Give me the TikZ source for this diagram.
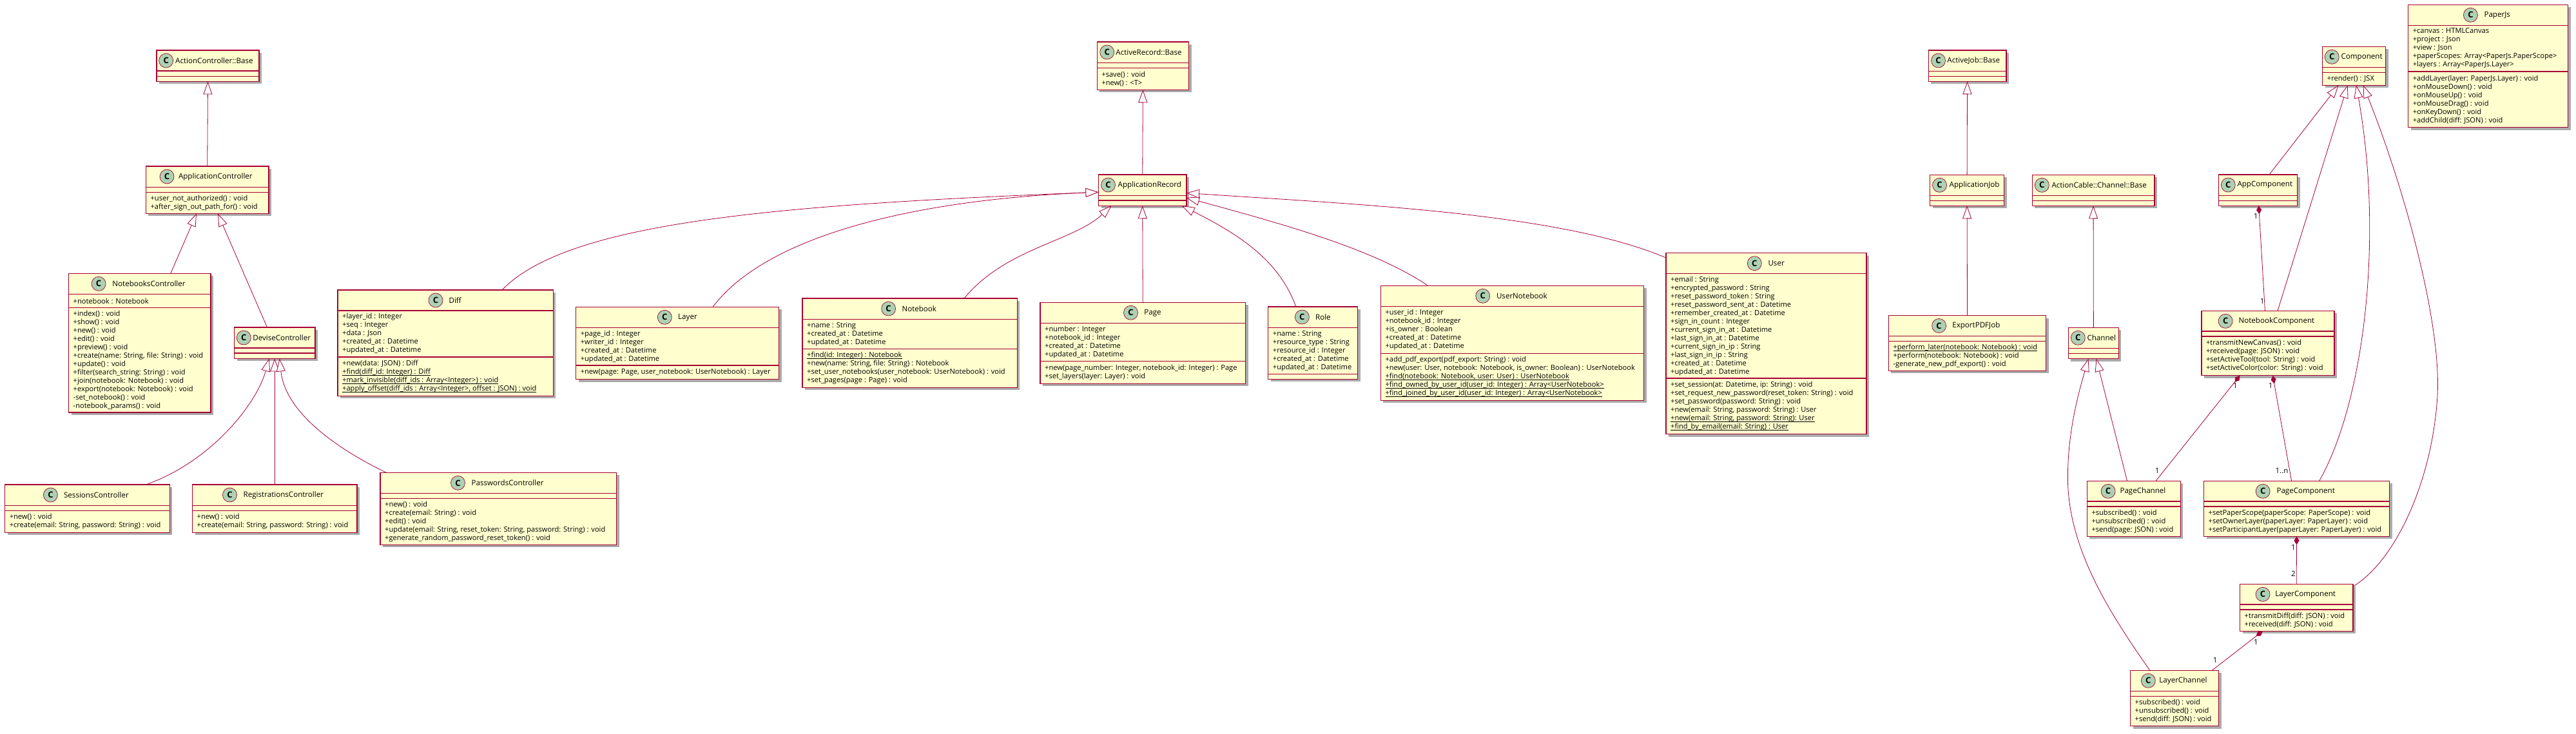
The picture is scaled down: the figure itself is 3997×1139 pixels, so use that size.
\documentclass[tikz,border=0pt]{standalone}
\usepackage{fontspec}
\setmainfont{Open Sans}
\usetikzlibrary{positioning, arrows.meta, shapes, shadows, calc}
\definecolor{DeepRed}{HTML}{A80036}
\definecolor{BoxFill}{HTML}{FEFECE}
\definecolor{IconFill}{HTML}{ADD1B2}
\tikzset{
  classbox/.style={draw=DeepRed, line width=1.4pt, fill=BoxFill, inner sep=0, outer sep=0,
    drop shadow={shadow xshift=4pt, shadow yshift=-4pt, fill=black!60, opacity=.55}},
  classline/.style={draw=DeepRed, line width=1.2pt},
  classicon/.style={circle, draw=DeepRed, line width=.7pt, fill=IconFill, minimum size=22pt, inner sep=0, font=\fontsize{13}{13}\selectfont\bfseries},
  classtitle/.style={inner sep=0, anchor=west, font=\fontsize{11.6}{14}\selectfont},
  members/.style={inner sep=0, anchor=west, align=left, font=\fontsize{11.1}{13}\selectfont},
  mult/.style={inner sep=0, font=\fontsize{11.5}{13}\selectfont},
  extends/.style={draw=DeepRed, line width=.8pt, -{Triangle[length=20pt, width=14pt, fill=white, line width=.8pt]}},
  owns/.style={draw=DeepRed, line width=.8pt, {Diamond[length=13pt, width=8pt, fill=DeepRed]}-}
}
% id, left, top, right, bottom, first rule, second rule, fields, methods
\newcommand{\umlbox}[9]{
  \node[classbox, minimum width={(#4-#2)*1pt}, minimum height={(#5-#3)*1pt}] (#1) at ({(#2+#4)/2},{(#3+#5)/2}) {};
  \draw[classline] (#1.west |- 0,#6) -- (#1.east |- 0,#6);
  \draw[classline] (#1.west |- 0,#7) -- (#1.east |- 0,#7);
  \if\relax\detokenize{#8}\relax\else
    \node[members] (#1-fields) at ({#2+7},{(#6+#7)/2}) {#8};
  \fi
  \if\relax\detokenize{#9}\relax\else
    \node[members] (#1-methods) at ({#2+7},{(#7+#5)/2}) {#9};
  \fi
}
% id, icon centre, title start (both from the left side), title
\newcommand{\umlhead}[4]{
  \node[classicon] (#1-icon) at ([xshift=#2pt, yshift=-16pt]#1.north west) {C};
  \node[classtitle] (#1-title) at ([xshift=#3pt, yshift=-16pt]#1.north west) {#4};
}
\newcommand{\stat}[1]{\sbox0{#1}\rlap{\vrule height -1.7pt depth 2.6pt width \wd0}\usebox0}
\begin{document}
\begin{tikzpicture}[x=1pt, y=-1pt]
\useasboundingbox (0,0) rectangle (3997,1139);
% Controllers
\umlbox{ActionBase}{243}{78}{402}{126.4}{110}{118.2}{}{}
\umlhead{ActionBase}{14.7}{29}{ActionController::Base}
\umlbox{AppController}{226.4}{258}{417}{331.4}{290.4}{298.6}{}{+user\_not\_authorized() : void\\+after\_sign\_out\_path\_for() : void}
\umlhead{AppController}{32.6}{50.4}{ApplicationController}
\umlbox{NotebooksCtrl}{106.5}{424.3}{327}{640}{456.4}{477.5}{+notebook : Notebook}{+index() : void\\+show() : void\\+new() : void\\+edit() : void\\+preview() : void\\+create(name: String, file: String) : void\\+update() : void\\+filter(search\_string: String) : void\\+join(notebook: Notebook) : void\\+export(notebook: Notebook) : void\\-set\_notebook() : void\\-notebook\_params() : void}
\umlhead{NotebooksCtrl}{46.6}{67.7}{NotebooksController}
\umlbox{DeviseCtrl}{363.5}{508}{489}{556.4}{540}{548}{}{}
\umlhead{DeviseCtrl}{14.7}{28.7}{DeviseController}
\umlbox{SessionsCtrl}{7.6}{752}{263.4}{826.2}{784.3}{792.5}{}{+new() : void\\+create(email: String, password: String) : void}
\umlhead{SessionsCtrl}{70.8}{91.3}{SessionsController}
\umlbox{RegistrationsCtrl}{298.5}{752}{554}{826.2}{784.3}{792.5}{}{+new() : void\\+create(email: String, password: String) : void}
\umlhead{RegistrationsCtrl}{58}{79}{RegistrationsController}
\umlbox{PasswordsCtrl}{590}{733.4}{956.6}{845.4}{765.3}{773.6}{}{+new() : void\\+create(email: String) : void\\+edit() : void\\+update(email: String, reset\_token: String, password: String) : void\\+generate\_random\_password\_reset\_token() : void}
\umlhead{PasswordsCtrl}{120.5}{141.5}{PasswordsController}
% Models
\umlbox{RecordBase}{1702.2}{65}{1844.6}{139.3}{97.3}{105.3}{}{+save() : void\\+new() : <T>}
\umlhead{RecordBase}{15.5}{29}{ActiveRecord::Base}
\umlbox{AppRecord}{1704.5}{271}{1841}{319.3}{303.3}{311}{}{}
\umlhead{AppRecord}{15}{30}{ApplicationRecord}
\umlbox{Diff}{524}{450}{858.4}{614.4}{482}{554}{+layer\_id : Integer\\+seq : Integer\\+data : Json\\+created\_at : Datetime\\+updated\_at : Datetime}{+new(data: JSON) : Diff\\\stat{+find(diff\_id: Integer) : Diff}\\\stat{+mark\_invisible(diff\_ids : Array<Integer>) : void}\\\stat{+apply\_offset(diff\_ids : Array<Integer>, offset : JSON) : void}}
\umlhead{Diff}{152}{172.4}{Diff}
\umlbox{Layer}{893.6}{476.3}{1208.7}{588.7}{508.3}{567}{+page\_id : Integer\\+writer\_id : Integer\\+created\_at : Datetime\\+updated\_at : Datetime}{+new(page: Page, user\_notebook: UserNotebook) : Layer}
\umlhead{Layer}{137.7}{158.4}{Layer}
\umlbox{Notebook}{1245}{463}{1578.4}{601.3}{495.3}{541.3}{+name : String\\+created\_at : Datetime\\+updated\_at : Datetime}{\stat{+find(id: Integer) : Notebook}\\+new(name: String, file: String) : Notebook\\+set\_user\_notebooks(user\_notebook: UserNotebook) : void\\+set\_pages(page : Page) : void}
\umlhead{Notebook}{133.6}{154.3}{Notebook}
\umlbox{Page}{1614}{469.3}{1932.5}{595.3}{501.3}{560.7}{+number : Integer\\+notebook\_id : Integer\\+created\_at : Datetime\\+updated\_at : Datetime}{+new(page\_number: Integer, notebook\_id: Integer) : Page\\+set\_layers(layer: Layer) : void}
\umlhead{Page}{140.5}{161.2}{Page}
\umlbox{Role}{1967.7}{476}{2106.5}{588.3}{508.3}{580.3}{+name : String\\+resource\_type : String\\+resource\_id : Integer\\+created\_at : Datetime\\+updated\_at : Datetime}{}
\umlhead{Role}{52.6}{73.2}{Role}
\umlbox{UserNotebook}{2142.3}{443.3}{2550.5}{621.3}{475.3}{548.3}{+user\_id : Integer\\+notebook\_id : Integer\\+is\_owner : Boolean\\+created\_at : Datetime\\+updated\_at : Datetime}{+add\_pdf\_export(pdf\_export: String) : void\\+new(user: User, notebook: Notebook, is\_owner: Boolean) : UserNotebook\\\stat{+find(notebook: Notebook, user: User) : UserNotebook}\\\stat{+find\_owned\_by\_user\_id(user\_id: Integer) : Array<UserNotebook>}\\\stat{+find\_joined\_by\_user\_id(user\_id: Integer) : Array<UserNotebook>}}
\umlhead{UserNotebook}{158.4}{179.5}{UserNotebook}
\umlbox{User}{2585}{392.7}{2896}{673.7}{424.3}{587}{+email : String\\+encrypted\_password : String\\+reset\_password\_token : String\\+reset\_password\_sent\_at : Datetime\\+remember\_created\_at : Datetime\\+sign\_in\_count : Integer\\+current\_sign\_in\_at : Datetime\\+last\_sign\_in\_at : Datetime\\+current\_sign\_in\_ip : String\\+last\_sign\_in\_ip : String\\+created\_at : Datetime\\+updated\_at : Datetime}{+set\_session(at: Datetime, ip: String) : void\\+set\_request\_new\_password(reset\_token: String) : void\\+set\_password(password: String) : void\\+new(email: String, password: String) : User\\\stat{+new(email: String, password: String): User}\\\stat{+find\_by\_email(email: String) : User}}
\umlhead{User}{137.3}{158.3}{User}
% Jobs
\umlbox{JobBase}{2992.2}{78}{3112.8}{126.3}{110.3}{118.3}{}{}
\umlhead{JobBase}{15.3}{29}{ActiveJob::Base}
\umlbox{AppJob}{2994.5}{271.3}{3109.7}{319.3}{303.3}{311.3}{}{}
\umlhead{AppJob}{15}{30}{ApplicationJob}
\umlbox{ExportJob}{2930.3}{489.5}{3174.7}{575.3}{521.3}{529.3}{}{\stat{+perform\_later(notebook: Notebook) : void}\\+perform(notebook: Notebook) : void\\-generate\_new\_pdf\_export() : void}
\umlhead{ExportJob}{78.3}{98.8}{ExportPDFJob}
% Channels
\umlbox{CableBase}{3153.3}{271.3}{3342.8}{319.3}{303.3}{311.3}{}{}
\umlhead{CableBase}{15}{30}{ActionCable::Channel::Base}
\umlbox{Channel}{3209.3}{508.3}{3287.4}{556.7}{540.3}{548.3}{}{}
\umlhead{Channel}{15}{29}{Channel}
\umlbox{PageChannel}{3238.3}{746.3}{3383.4}{832.3}{778}{786}{}{+subscribed() : void\\+unsubscribed() : void\\+send(page: JSON) : void}
\umlhead{PageChannel}{32.8}{51}{PageChannel}
\umlbox{LayerChannel}{3305.5}{1040.3}{3442.7}{1126.7}{1072.3}{1080.3}{}{+subscribed() : void\\+unsubscribed() : void\\+send(diff: JSON) : void}
\umlhead{LayerChannel}{27.8}{44.7}{LayerChannel}
% Components
\umlbox{Component}{3603.7}{72.3}{3701.6}{132.3}{104.3}{112.3}{}{+render() : JSX}
\umlhead{Component}{14.5}{28.6}{Component}
\umlbox{AppComponent}{3442.3}{271}{3564.5}{319.3}{303.3}{311.3}{}{}
\umlhead{AppComponent}{15}{29}{AppComponent}
\umlbox{NotebookComponent}{3415.8}{482.3}{3621.8}{582.7}{514}{522}{}{+transmitNewCanvas() : void\\+received(page: JSON) : void\\+setActiveTool(tool: String) : void\\+setActiveColor(color: String) : void}
\umlhead{NotebookComponent}{37.3}{57.6}{NotebookComponent}
\umlbox{PageComponent}{3419.5}{746.3}{3707.6}{832.3}{778}{786}{}{+setPaperScope(paperScope: PaperScope) : void\\+setOwnerLayer(paperLayer: PaperLayer) : void\\+setParticipantLayer(paperLayer: PaperLayer) : void}
\umlhead{PageComponent}{91.6}{112.8}{PageComponent}
\umlbox{LayerComponent}{3475.5}{906.3}{3650.8}{979.3}{938}{946}{}{+transmitDiff(diff: JSON) : void\\+received(diff: JSON) : void}
\umlhead{LayerComponent}{35.5}{54.7}{LayerComponent}
\umlbox{PaperJs}{3736.6}{7.3}{3984.5}{197.7}{39.3}{111}{+canvas : HTMLCanvas\\+project : Json\\+view : Json\\+paperScopes: Array<PaperJs.PaperScope>\\+layers : Array<PaperJs.Layer>}{+addLayer(layer: PaperJs.Layer) : void\\+onMouseDown() : void\\+onMouseUp() : void\\+onMouseDrag() : void\\+onKeyDown() : void\\+addChild(diff: JSON) : void}
\umlhead{PaperJs}{96.8}{117.7}{PaperJs}
% Inheritance, controllers
\draw[extends] (AppController.north) -- (ActionBase.south);
\draw[extends] ([xshift=48pt]NotebooksCtrl.north) -- ([xshift=-16.7pt]AppController.south);
\draw[extends] ([xshift=-11.75pt]DeviseCtrl.north) -- ([xshift=16.3pt]AppController.south);
\draw[extends] ([xshift=90.9pt]SessionsCtrl.north) .. controls (324,718) and (397,630) .. ([xshift=-8.5pt]DeviseCtrl.south);
\draw[extends] (RegistrationsCtrl.north) -- (DeviseCtrl.south);
\draw[extends] ([xshift=-173.8pt]PasswordsCtrl.north) .. controls (530,700) and (443,643) .. ([xshift=7.5pt]DeviseCtrl.south);
% Inheritance, models
\draw[extends] (AppRecord.north) -- (RecordBase.south);
\draw[extends] ([xshift=87.8pt]Diff.north) .. controls (880,345) and (1200,318) .. ([yshift=-3pt]AppRecord.west);
\draw[extends] ([xshift=54.85pt]Layer.north) .. controls (1190,365) and (1420,310) .. ([yshift=-3pt]AppRecord.west);
\draw[extends] ([xshift=84.35pt]Notebook.north) .. controls (1560,385) and (1665,375) .. ([xshift=-48.15pt]AppRecord.south);
\draw[extends] (Page.north) -- (AppRecord.south);
\draw[extends] ([xshift=-26.3pt]Role.north) .. controls (1985,405) and (1925,365) .. ([xshift=61pt]AppRecord.south);
\draw[extends] ([xshift=-130.9pt]UserNotebook.north) .. controls (2130,385) and (1980,345) .. ([yshift=-11.7pt]AppRecord.east);
\draw[extends] ([yshift=-7.3pt]User.north west) .. controls (2420,330) and (2100,317) .. ([yshift=-4.3pt]AppRecord.east);
% Inheritance, jobs and channels
\draw[extends] (AppJob.north) -- (JobBase.south);
\draw[extends] (ExportJob.north) -- (AppJob.south);
\draw[extends] (Channel.north) -- (CableBase.south);
\draw[extends] ([xshift=-10.35pt]PageChannel.north) -- ([xshift=4.3pt]Channel.south);
\draw[extends] ([xshift=-38.4pt]LayerChannel.north) .. controls (3280,960) and (3212,860) .. (3208.5,750) .. controls (3207,680) and (3222,620) .. ([xshift=-7.9pt]Channel.south);
% Inheritance, components
\draw[extends] ([xshift=17.6pt]AppComponent.north) -- ([xshift=-24.15pt]Component.south);
\draw[extends] ([xshift=15.2pt]NotebookComponent.north) -- ([xshift=-10pt]Component.south);
\draw[extends] ([xshift=35pt]PageComponent.north) .. controls (3665,630) and (3700,380) .. ([xshift=3.35pt]Component.south);
\draw[extends] ([yshift=-4pt]LayerComponent.north east) .. controls (3720,868) and (3775,740) .. (3782,613) .. controls (3788,500) and (3730,290) .. ([xshift=14pt]Component.south);
% Composition
\draw[owns] ([xshift=1.3pt]AppComponent.south) -- ([xshift=-4.4pt]NotebookComponent.north);
\draw[owns] ([xshift=-43.3pt]NotebookComponent.south) -- ([xshift=34.15pt]PageChannel.north);
\draw[owns] ([xshift=7.7pt]NotebookComponent.south) -- ([xshift=-8pt]PageComponent.north);
\draw[owns] (PageComponent.south) -- (LayerComponent.north);
\draw[owns] ([xshift=-52.4pt]LayerComponent.south) -- ([xshift=58.2pt]LayerChannel.north);
% Multiplicities
\node[mult] (MultA) at (3500,335.7) {1};
\node[mult] (MultB) at (3510,467) {1};
\node[mult] (MultC) at (3468.4,598) {1};
\node[mult] (MultD) at (3347,730.7) {1};
\node[mult] (MultE) at (3523,598.7) {1};
\node[mult] (MultF) at (3540.5,730.7) {1..n};
\node[mult] (MultG) at (3558.4,849.3) {1};
\node[mult] (MultH) at (3558.4,890.3) {2};
\node[mult] (MultI) at (3500.3,996.7) {1};
\node[mult] (MultJ) at (3437,1024.3) {1};
\end{tikzpicture}
\end{document}
